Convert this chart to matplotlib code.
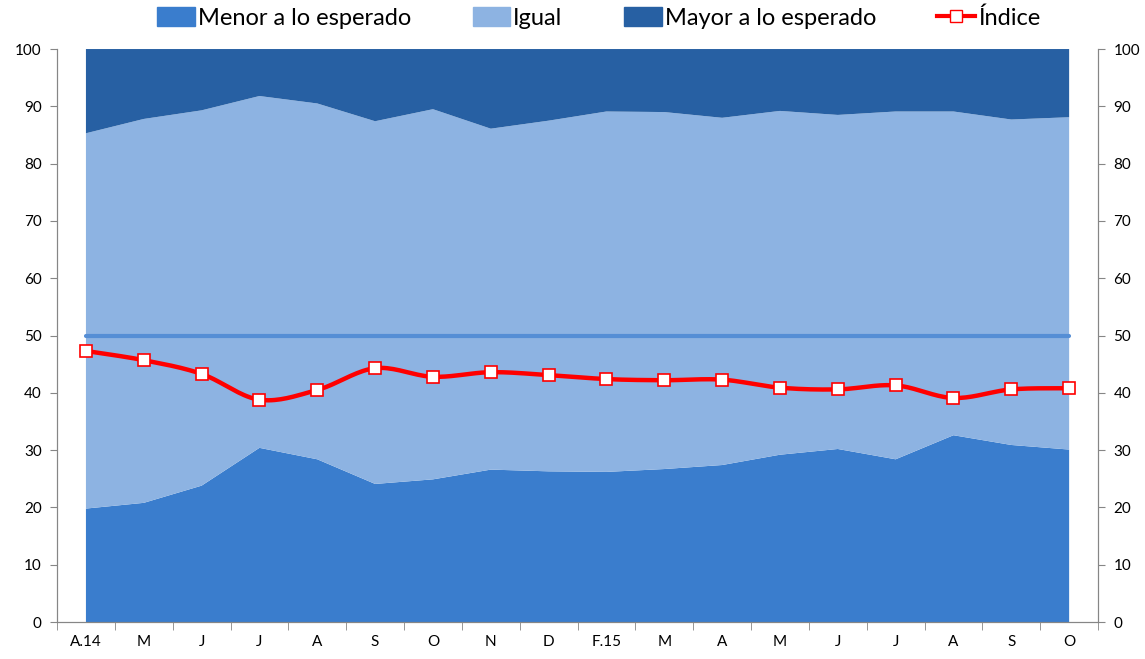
import matplotlib
matplotlib.use('Agg')
import matplotlib.pyplot as plt
import numpy as np
from matplotlib.patches import Patch
from matplotlib.lines import Line2D

plt.rcParams['font.family'] = ['Lato', 'DejaVu Sans']

# -------------------------[Data]-------------------------
months = ['A.14', 'M', 'J', 'J', 'A', 'S', 'O', 'N', 'D', 'F.15',
          'M', 'A', 'M', 'J', 'J', 'A', 'S', 'O']
menor = [19.8, 20.8, 23.8, 30.4, 28.4, 24.1, 24.9, 26.6, 26.3, 26.2,
         26.7, 27.4, 29.2, 30.2, 28.4, 32.6, 30.9, 30.1]
menor_igual = [85.3, 87.8, 89.3, 91.8, 90.5, 87.4, 89.5, 86.1, 87.5, 89.1,
               89.0, 88.0, 89.2, 88.5, 89.1, 89.1, 87.7, 88.1]
indice = [47.3, 45.7, 43.3, 38.8, 40.5, 44.3, 42.8, 43.6, 43.1, 42.4,
          42.2, 42.3, 40.9, 40.6, 41.3, 39.1, 40.6, 40.8]
referencia = 50
# ---------------------------------------------------------

igual = [t - m for t, m in zip(menor_igual, menor)]
mayor = [100 - t for t in menor_igual]

c_menor = '#3a7dcd'
c_igual = '#8db3e2'
c_mayor = '#2760a3'
c_axis = '#868686'


def smooth(x, y, n=20):
    # Catmull-Rom style smoothing, like Excel's "smoothed line"
    x = np.asarray(x, float)
    y = np.asarray(y, float)
    px = np.concatenate([[x[0]], x, [x[-1]]])
    py = np.concatenate([[y[0]], y, [y[-1]]])
    xs, ys = [], []
    for i in range(1, len(px) - 2):
        p0, p1, p2, p3 = (np.array([px[j], py[j]]) for j in range(i - 1, i + 3))
        c1 = p1 + (p2 - p0) / 6
        c2 = p2 - (p3 - p1) / 6
        t = np.linspace(0, 1, n)[:, None]
        b = (1 - t) ** 3 * p1 + 3 * (1 - t) ** 2 * t * c1 + 3 * (1 - t) * t ** 2 * c2 + t ** 3 * p2
        xs.extend(b[:, 0])
        ys.extend(b[:, 1])
    return np.array(xs), np.array(ys)


fig = plt.figure(figsize=(11.45, 6.59), dpi=100)
ax = fig.add_axes([0.0498, 0.0561, 0.9092, 0.8695])

x = np.arange(len(months))
ax.stackplot(x, menor, igual, mayor, colors=[c_menor, c_igual, c_mayor], linewidth=0)
ax.plot([x[0], x[-1]], [referencia, referencia], color='#558ed5', linewidth=3,
        solid_capstyle='round', zorder=3)

sx, sy = smooth(x, indice)
ax.plot(sx, sy, color='#ff0000', linewidth=3.2, zorder=4)
ax.plot(x, indice, linestyle='none', marker='s', markersize=9,
        markerfacecolor='white', markeredgecolor='#ff0000', markeredgewidth=1.2, zorder=5)

ax.set_xlim(-0.5, len(months) - 0.5)
ax.set_ylim(0, 100)
ax.set_yticks(range(0, 101, 10))
ax.set_xticks(x)
ax.set_xticklabels(months, fontsize=11)
ax.set_xticks(np.arange(-0.5, len(months), 1), minor=True)
ax.tick_params(axis='x', which='major', length=0, pad=9)
ax.tick_params(axis='x', which='minor', length=6, color=c_axis, direction='out')
ax.tick_params(axis='y', length=5, color=c_axis, labelsize=11, pad=6)

ax.spines['top'].set_visible(False)
for side in ['left', 'right', 'bottom']:
    ax.spines[side].set_color(c_axis)

ax_r = ax.twinx()
ax_r.set_ylim(0, 100)
ax_r.set_yticks(range(0, 101, 10))
ax_r.tick_params(axis='y', length=5, color=c_axis, labelsize=11, pad=6)
ax_r.spines['top'].set_visible(False)
for side in ['left', 'right', 'bottom']:
    ax_r.spines[side].set_color(c_axis)

handles = [Patch(color=c_menor, label='Menor a lo esperado'),
           Patch(color=c_igual, label='Igual'),
           Patch(color=c_mayor, label='Mayor a lo esperado'),
           Line2D([], [], color='#ff0000', linewidth=3, marker='s', markersize=8,
                  markerfacecolor='white', markeredgecolor='#ff0000', label='Índice')]
fig.legend(handles=handles, loc='center', bbox_to_anchor=(0.523, 0.973), ncol=4,
           frameon=False, fontsize=17, handlelength=1.6, handleheight=0.9,
           handletextpad=0.12, columnspacing=2.6)

fig.savefig('out.png', dpi=100)
